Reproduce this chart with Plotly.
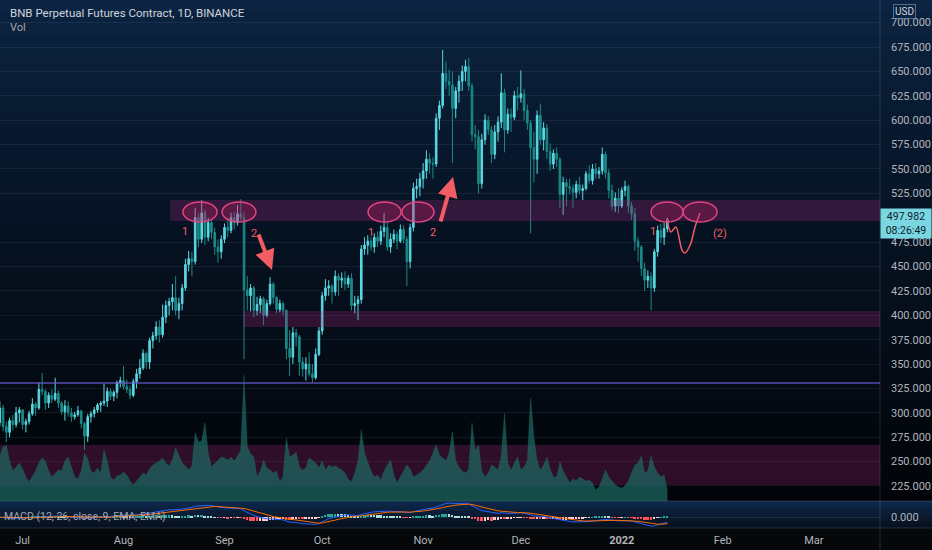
import pandas as pd
import plotly.graph_objects as go

# BNB perpetual (Binance), daily bars 2021-06-24 .. 2022-01-15, last bar still open
opens = [
    290, 305, 286, 280, 292, 288, 300,
    303, 288, 291, 299, 309, 305, 324, 322, 310, 318, 314, 320, 310, 301, 307, 300,
    296, 298, 302, 289, 276, 296, 299, 303, 308, 310, 312, 322, 317, 321, 331,
    333, 327, 324, 318, 332, 340, 346, 361, 352, 374, 379, 388, 380, 398, 410, 414,
    418, 405, 412, 428, 452, 458, 455, 500, 478, 505, 480, 495, 485, 470, 465,
    478, 490, 487, 500, 495, 504, 500, 426, 420, 428, 405, 411, 417, 400, 412, 432,
    418, 406, 412, 405, 366, 357, 382, 378, 352, 345, 350, 340, 336, 360,
    384, 420, 428, 430, 424, 440, 436, 438, 432, 438, 410, 412, 416, 468, 472, 476,
    470, 480, 476, 486, 490, 470, 478, 483, 476, 488, 478, 455, 490, 530, 532,
    540, 548, 560, 556, 555, 602, 615, 648, 640, 636, 612, 630, 640, 650, 655,
    635, 585, 583, 535, 580, 600, 590, 565, 588, 598, 628, 590, 606, 603, 625,
    623, 627, 610, 597, 572, 560, 605, 580, 592, 568, 555, 566, 560, 524, 536, 532,
    530, 526, 534, 528, 530, 545, 538, 550, 545, 548, 565, 546, 528, 512, 520,
    512, 528, 532, 512, 504, 476, 470, 448, 436, 440, 428, 465, 487, 480, 489,
]
highs = [
    312, 308, 291, 295, 298, 306, 306,
    304, 294, 302, 315, 311, 331, 341, 324, 321, 324, 336, 323, 312, 313, 312,
    305, 301, 307, 303, 291, 299, 302, 306, 310, 312, 330, 326, 325, 323, 333, 337,
    348, 334, 328, 335, 345, 355, 365, 363, 377, 383, 394, 395, 411, 415, 418,
    432, 440, 418, 432, 458, 466, 465, 510, 505, 518, 508, 500, 498, 490, 478, 482,
    494, 500, 505, 506, 513, 519, 506, 440, 432, 430, 419, 420, 419, 416, 439,
    434, 420, 416, 414, 406, 385, 388, 386, 380, 357, 357, 362, 350, 366, 388,
    424, 437, 436, 432, 446, 443, 444, 445, 441, 443, 420, 420, 472, 480, 482,
    480, 484, 486, 492, 505, 496, 484, 488, 486, 493, 492, 481, 494, 536, 540, 546,
    556, 569, 566, 562, 607, 620, 672, 660, 652, 650, 634, 646, 656, 662, 664,
    638, 595, 590, 586, 606, 604, 594, 595, 604, 648, 632, 612, 612, 630, 634,
    651, 632, 616, 600, 588, 610, 617, 598, 596, 576, 570, 572, 562, 542, 540,
    540, 534, 538, 542, 534, 548, 554, 555, 556, 552, 572, 568, 550, 534, 526, 530,
    531, 538, 534, 516, 510, 480, 472, 454, 446, 444, 468, 492, 494, 495, 500,
]
lows = [
    286, 281, 270, 275, 282, 285, 290,
    283, 280, 288, 297, 297, 303, 318, 303, 305, 310, 312, 305, 298, 292, 296,
    291, 293, 296, 284, 262, 270, 290, 295, 300, 301, 307, 306, 313, 312, 315, 326,
    324, 320, 314, 316, 325, 335, 344, 345, 345, 366, 375, 372, 377, 392, 400,
    405, 400, 396, 405, 425, 445, 440, 452, 470, 474, 472, 476, 478, 462, 454, 458,
    474, 480, 484, 488, 492, 496, 355, 405, 404, 398, 400, 402, 390, 398, 410,
    412, 402, 403, 400, 355, 338, 350, 368, 338, 337, 333, 337, 331, 334, 358,
    380, 415, 420, 412, 420, 420, 428, 426, 428, 405, 402, 395, 412, 462, 462,
    466, 464, 470, 472, 480, 466, 464, 474, 468, 474, 474, 430, 448, 486, 520, 522,
    530, 540, 545, 540, 552, 590, 612, 632, 625, 556, 602, 618, 630, 640, 630,
    578, 570, 525, 530, 575, 585, 556, 560, 578, 592, 567, 586, 588, 600, 610,
    618, 600, 590, 484, 536, 545, 575, 569, 560, 548, 550, 552, 510, 503, 512,
    524, 510, 520, 524, 518, 528, 535, 534, 540, 540, 544, 540, 520, 508, 506, 505,
    510, 522, 505, 498, 466, 455, 440, 425, 428, 405, 424, 460, 474, 472, 485,
]
closes = [
    305, 286, 280, 292, 288, 300, 303,
    288, 291, 299, 309, 305, 324, 322, 310, 318, 314, 320, 310, 301, 307, 300,
    296, 298, 302, 289, 276, 296, 299, 303, 308, 310, 312, 322, 317, 321, 331, 333,
    327, 324, 318, 332, 340, 346, 361, 352, 374, 379, 388, 380, 398, 410, 414,
    418, 405, 412, 428, 452, 458, 455, 500, 478, 505, 480, 495, 485, 470, 465, 478,
    490, 487, 500, 495, 504, 500, 426, 420, 428, 405, 411, 417, 400, 412, 432,
    418, 406, 412, 405, 366, 357, 382, 378, 352, 345, 350, 340, 336, 360, 384,
    420, 428, 430, 424, 440, 436, 438, 432, 438, 410, 412, 416, 468, 472, 476,
    470, 480, 476, 486, 490, 470, 478, 483, 476, 488, 478, 455, 490, 530, 532, 540,
    548, 560, 556, 555, 602, 615, 648, 640, 636, 612, 630, 640, 650, 655, 635,
    585, 583, 535, 580, 600, 590, 565, 588, 598, 628, 590, 606, 603, 625, 623,
    627, 610, 597, 572, 560, 605, 580, 592, 568, 555, 566, 560, 524, 536, 532,
    530, 526, 534, 528, 530, 545, 538, 550, 545, 548, 565, 546, 528, 512, 520, 512,
    528, 532, 512, 504, 476, 470, 448, 436, 440, 428, 465, 487, 480, 489, 497.982,
]
# volume in thousands of contracts (read from the area height)
volumes = [
    45, 54, 56, 40, 30, 34, 38,
    32, 24, 19, 25, 30, 38, 43, 40, 30, 24, 27, 31, 30, 40, 44,
    35, 24, 22, 30, 48, 42, 30, 28, 33, 28, 51, 40, 24, 21, 25, 26,
    29, 26, 20, 16, 20, 24, 28, 26, 32, 36, 38, 40, 43, 38, 35,
    41, 53, 45, 38, 35, 31, 35, 68, 59, 60, 78, 48, 34, 37, 41, 44,
    43, 41, 44, 40, 45, 51, 126, 54, 47, 44, 24, 30, 41, 33, 31,
    28, 30, 19, 25, 63, 44, 46, 49, 34, 31, 33, 43, 40, 38, 33,
    40, 31, 36, 34, 35, 33, 31, 28, 22, 19, 28, 40, 71, 48, 38,
    30, 24, 26, 21, 30, 36, 41, 26, 18, 24, 30, 36, 32, 24, 26, 28,
    31, 36, 40, 48, 56, 46, 43, 40, 48, 69, 40, 34, 30, 28, 32,
    78, 50, 56, 30, 24, 28, 36, 34, 31, 45, 88, 38, 31, 38, 44,
    31, 34, 40, 103, 64, 40, 31, 36, 44, 32, 24, 24, 39, 30, 24,
    18, 22, 20, 24, 22, 20, 21, 18, 11, 14, 22, 31, 24, 20, 16, 14,
    13, 15, 20, 28, 36, 38, 45, 28, 30, 45, 34, 28, 24, 26, 11,
]
month_ticks = ["2021-07-01", "2021-08-01", "2021-09-01", "2021-10-01", "2021-11-01",
               "2021-12-01", "2022-01-01", "2022-02-01", "2022-03-01"]
month_labels = ["Jul", "Aug", "Sep", "Oct", "Nov", "Dec", "<b>2022</b>", "Feb", "Mar"]
# 500.000 sits under the live price tag, so it is not labelled
price_ticks = [p for p in range(225, 701, 25) if p != 500]

assert len(opens) == len(highs) == len(lows) == len(closes) == len(volumes)
dates = pd.date_range("2021-06-24", periods=len(closes), freq="D")

# MACD (12, 26, close, 9)
close_s = pd.Series(closes, index=dates)
macd = close_s.ewm(span=12, adjust=False).mean() - close_s.ewm(span=26, adjust=False).mean()
signal = macd.ewm(span=9, adjust=False).mean()
hist = macd - signal
hist_colors = []
for i, h in enumerate(hist):
    prev = hist.iloc[i - 1] if i else 0
    if h >= 0:
        hist_colors.append("#26a69a" if h >= prev else "#b2dfdb")
    else:
        hist_colors.append("#ffcdd2" if h >= prev else "#ff5252")

UP = "#5ad8e2"
DOWN = "#1b8a86"
PINK = "#e0457e"
RED = "#f25c63"
FONT = "Roboto, Noto Sans, sans-serif"
X_START = "2021-06-24 01:30"
X_END = "2022-03-21 07:00"
H = 528.0                 # plot area height in px
MAIN_BOTTOM = 27 / H       # main pane sits above the 27px MACD pane
XR = 932 / 880.0           # right edge of the figure in paper units

fig = go.Figure()
fig.add_trace(go.Scatter(
    x=dates, y=volumes, mode="lines", yaxis="y", xaxis="x",
    line=dict(color="rgba(29,107,100,0.7)", width=0.5),
    fill="tozeroy", fillcolor="rgba(29,107,100,0.7)",
    hoverinfo="skip", showlegend=False))
fig.add_trace(go.Candlestick(
    x=dates, open=opens, high=highs, low=lows, close=closes, yaxis="y2", xaxis="x",
    increasing=dict(line=dict(color=UP, width=1), fillcolor=UP),
    decreasing=dict(line=dict(color=DOWN, width=1), fillcolor=DOWN),
    whiskerwidth=0, showlegend=False, name="BNB"))
# the hand drawn projection after the last bar
fig.add_trace(go.Scatter(
    x=["2022-01-14 21:00", "2022-01-16 02:00", "2022-01-17 14:00", "2022-01-19 12:00",
       "2022-01-20 10:00", "2022-01-22 00:00", "2022-01-23 12:00", "2022-01-25 00:00"],
    y=[498.7, 485.4, 490.5, 466.9, 463.9, 472.0, 490.5, 504.8],
    mode="lines", line=dict(color=RED, width=1.5, shape="spline"),
    yaxis="y2", xaxis="x", hoverinfo="skip", showlegend=False))
fig.add_trace(go.Bar(
    x=dates, y=hist, marker=dict(color=hist_colors, line_width=0), width=0.6 * 86400000,
    yaxis="y3", xaxis="x", showlegend=False, hoverinfo="skip"))
fig.add_trace(go.Scatter(x=dates, y=macd, mode="lines", line=dict(color="#2962ff", width=1),
                         yaxis="y3", xaxis="x", showlegend=False))
fig.add_trace(go.Scatter(x=dates, y=signal, mode="lines", line=dict(color="#ff6d00", width=1),
                         yaxis="y3", xaxis="x", showlegend=False))


def mix(c0, c1, t):
    return "rgb(%d,%d,%d)" % tuple(round(a + (b - a) * t) for a, b in zip(c0, c1))


shapes = []
# tradingview style gradient background
n = 40
for i in range(n):
    t0, t1 = i / n, (i + 1) / n
    shapes.append(dict(type="rect", xref="paper", yref="paper", x0=0, x1=XR,
                       y0=1 - t1 * (1 - MAIN_BOTTOM) - 0.002, y1=1 - t0 * (1 - MAIN_BOTTOM),
                       fillcolor=mix((12, 37, 68), (2, 4, 8), ((t0 + t1) / 2) ** 0.75),
                       line_width=0, layer="below"))
m = 8
for i in range(m):
    t0, t1 = i / m, (i + 1) / m
    shapes.append(dict(type="rect", xref="paper", yref="paper", x0=0, x1=XR,
                       y0=MAIN_BOTTOM * (1 - t1) - 0.001, y1=MAIN_BOTTOM * (1 - t0),
                       fillcolor=mix((13, 42, 78), (7, 14, 26), (t0 + t1) / 2),
                       line_width=0, layer="below"))
shapes.append(dict(type="rect", xref="paper", yref="paper", x0=0, x1=XR, y0=-22 / H, y1=0,
                   fillcolor="#050709", line_width=0, layer="below"))
# pane separators
for yy in (0, MAIN_BOTTOM):
    shapes.append(dict(type="line", xref="paper", yref="paper", x0=0, x1=XR, y0=yy, y1=yy,
                       line=dict(color="rgba(110,125,155,0.3)", width=1)))
shapes.append(dict(type="line", xref="paper", yref="paper", x0=1, x1=1, y0=-22 / H, y1=1,
                   line=dict(color="rgba(110,125,155,0.3)", width=1)))

# zones and levels (the volume zone sits under the volume area)
zone = "rgba(180,40,130,0.25)"
shapes += [
    dict(type="rect", xref="x", yref="y2", x0=X_START, x1=X_END, y0=226.0, y1=267.0,
         fillcolor=zone, line_width=0, layer="below"),
    dict(type="rect", xref="x", yref="y2", x0="2021-08-15 07:00", x1=X_END, y0=496.6, y1=518.2,
         fillcolor=zone, line_width=0, layer="above"),
    dict(type="rect", xref="x", yref="y2", x0="2021-09-06 17:00", x1=X_END, y0=388.0, y1=404.4,
         fillcolor=zone, line_width=0, layer="above"),
    dict(type="line", xref="x", yref="y2", x0=X_START, x1=X_END, y0=330.6, y1=330.6,
         line=dict(color="rgba(110,90,210,0.6)", width=2), layer="above"),
]
ellipses = [
    ("2021-08-19 06:00", "2021-08-29 17:00"),
    ("2021-08-31 06:00", "2021-09-10 16:00"),
    ("2021-10-15 02:00", "2021-10-25 05:00"),
    ("2021-10-25 12:00", "2021-11-04 08:00"),
    ("2022-01-10 00:00", "2022-01-19 20:00"),
    ("2022-01-19 20:00", "2022-01-30 06:00"),
]
for a, b in ellipses:
    shapes.append(dict(type="circle", xref="x", yref="y2", x0=a, x1=b, y0=495.6, y1=516.1,
                       fillcolor="rgba(233,30,99,0.22)", line=dict(color=PINK, width=1.5),
                       layer="above"))

annotations = [
    dict(text="BNB Perpetual Futures Contract, 1D, BINANCE", xref="paper", yref="paper",
         x=8 / 880, y=1 - 13 / H, xanchor="left", yanchor="middle", showarrow=False,
         font=dict(family=FONT, size=11.5, color="#d1d4dc")),
    dict(text="Vol", xref="paper", yref="paper", x=8 / 880, y=1 - 27 / H,
         xanchor="left", yanchor="middle", showarrow=False,
         font=dict(family=FONT, size=11, color="#a3a6af")),
    dict(text="MACD (12, 26, close, 9, EMA, EMA)", xref="paper", yref="paper", x=2 / 880,
         y=(H - 516) / H, xanchor="left", yanchor="middle", showarrow=False,
         font=dict(family=FONT, size=10.5, color="#a3a6af")),
    dict(text="USD", xref="paper", yref="paper", x=905 / 880, y=1 - 11 / H,
         xanchor="center", yanchor="middle", showarrow=False, bgcolor="#0c2444",
         bordercolor="rgba(170,180,200,0.5)", borderwidth=1, borderpad=1,
         font=dict(family=FONT, size=10, color="#d1d4dc")),
    dict(text="497.982<br>08:26:49", xref="paper", yref="y2", x=1, y=494.0,
         xanchor="left", yanchor="middle", showarrow=False, bgcolor="#7ad7e1",
         width=48, borderpad=1, align="center",
         font=dict(family=FONT, size=10.5, color="#0d1b2a")),
]
for txt, xd, yp in [("1", "2021-08-19 21:00", 494.6), ("2", "2021-09-10 02:00", 492.5),
                    ("1", "2021-10-16 00:00", 493.6), ("2", "2021-11-04 01:00", 493.6),
                    ("1", "2022-01-10 14:00", 494.6), ("(2)", "2022-01-31 05:00", 492.5)]:
    annotations.append(dict(text=txt, xref="x", yref="y2", x=xd, y=yp, yanchor="top",
                            showarrow=False, font=dict(family=FONT, size=11, color=RED)))
for xd, yp, ax, ay in [("2021-09-15 14:00", 446.4, -14, -37), ("2021-11-10 05:00", 541.7, -13, 46)]:
    annotations.append(dict(text="", xref="x", yref="y2", x=xd, y=yp, ax=ax, ay=ay,
                            showarrow=True, arrowhead=2, arrowsize=1, arrowwidth=4,
                            arrowcolor=RED))

tick_font = dict(family=FONT, size=11, color="#b2b5be")
fig.update_layout(
    width=932, height=550,
    margin=dict(l=0, r=52, t=0, b=22),
    paper_bgcolor="#050709", plot_bgcolor="rgba(0,0,0,0)",
    showlegend=False, hovermode=False, bargap=0,
    shapes=shapes, annotations=annotations,
    xaxis=dict(type="date", range=[X_START, X_END], anchor="y3",
               rangeslider=dict(visible=False), showgrid=False, zeroline=False,
               tickvals=month_ticks, ticktext=month_labels, ticks="", tickfont=tick_font,
               ticklabelstandoff=4, showline=False),
    yaxis=dict(domain=[MAIN_BOTTOM, 1], range=[0, 501], visible=False, anchor="x"),
    yaxis2=dict(overlaying="y", side="right", anchor="x", range=[209.6, 723.2],
                tickvals=price_ticks, tickformat=".3f", ticks="", tickfont=tick_font,
                showgrid=True, gridcolor="rgba(150,170,210,0.10)", gridwidth=1,
                zeroline=False, ticklabelstandoff=10),
    yaxis3=dict(domain=[0, MAIN_BOTTOM], side="right", anchor="x", range=[-36, 54],
                tickvals=[0], tickformat=".3f", ticks="", tickfont=tick_font,
                showgrid=True, gridcolor="rgba(150,170,210,0.12)",
                zeroline=False, ticklabelstandoff=10),
)

# the page's default 8px body margin would shift the 932x550 figure
fig.write_html("out.html", config={"displayModeBar": False},
               post_script="document.body.style.margin='0';")
